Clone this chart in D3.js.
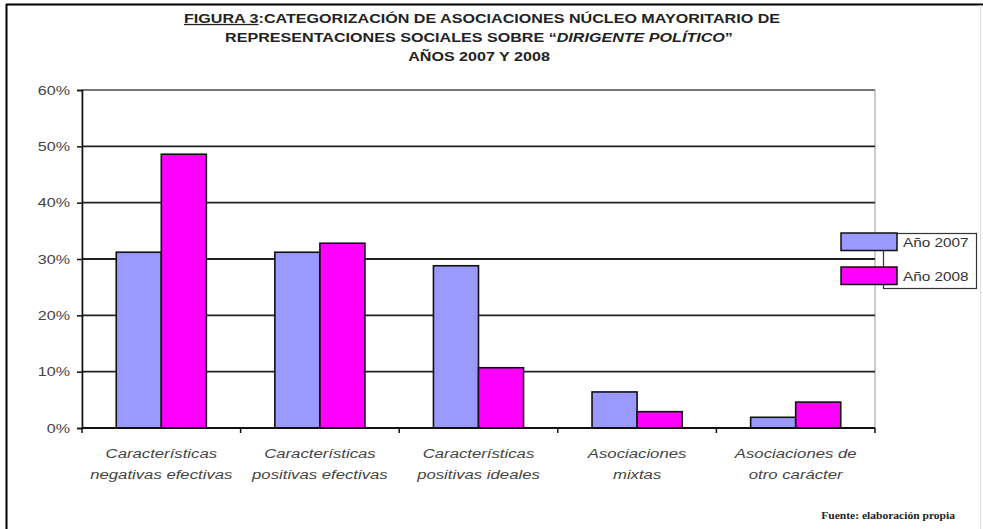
<!DOCTYPE html>
<html>
<head>
<meta charset="utf-8">
<script src="https://cdn.jsdelivr.net/npm/d3@7"></script>
<style>
  html, body { margin: 0; padding: 0; background: #fff; }
  svg { display: block; }
</style>
</head>
<body>
<svg id="chart" width="983" height="529"></svg>
<script>
// Categories (two-line labels) and the share of associations per year
const categories = [
  ["Características", "negativas efectivas"],
  ["Características", "positivas efectivas"],
  ["Características", "positivas ideales"],
  ["Asociaciones", "mixtas"],
  ["Asociaciones de", "otro carácter"]
];
const seriesNames = ["Año 2007", "Año 2008"];
const values2007 = [0.312, 0.312, 0.288, 0.064, 0.019];
const values2008 = [0.486, 0.328, 0.107, 0.029, 0.046];
const yTicks = [0, 0.1, 0.2, 0.3, 0.4, 0.5, 0.6];
const seriesColors = ["#9999FF", "#FF00FF"];

const svg = d3.select("#chart");
const font = "'Liberation Sans', Arial, sans-serif";
const sx = 1.24; // horizontal stretch of all lettering

// Outer frame
svg.append("line").attr("x1", 6).attr("x2", 983).attr("y1", 4.5).attr("y2", 4.5)
  .attr("stroke", "#000").attr("stroke-width", 2);
svg.append("line").attr("x1", 6.5).attr("x2", 6.5).attr("y1", 4).attr("y2", 529)
  .attr("stroke", "#000").attr("stroke-width", 2);
svg.append("line").attr("x1", 980.5).attr("x2", 980.5).attr("y1", 5).attr("y2", 529)
  .attr("stroke", "#ddd").attr("stroke-width", 1);

// Title
const title = svg.append("g").attr("font-family", font).attr("font-weight", "bold")
  .attr("font-size", 13).attr("fill", "#222").attr("text-anchor", "middle");
const t1 = title.append("text").attr("transform", `translate(482,23) scale(${sx},1)`);
t1.append("tspan").attr("text-decoration", "underline").text("FIGURA 3");
t1.append("tspan").text(":CATEGORIZACIÓN DE ASOCIACIONES NÚCLEO MAYORITARIO DE");
const t2 = title.append("text").attr("transform", `translate(479,42) scale(${sx},1)`);
t2.append("tspan").text("REPRESENTACIONES SOCIALES SOBRE “");
t2.append("tspan").attr("font-style", "italic").text("DIRIGENTE POLÍTICO");
t2.append("tspan").text("”");
title.append("text").attr("transform", `translate(479,61) scale(${sx},1)`).text("AÑOS 2007 Y 2008");

// Scales
const plotLeft = 82, plotRight = 875, plotTop = 90, plotBottom = 428;
const x0 = d3.scaleBand().domain(d3.range(categories.length)).range([plotLeft, plotRight]);
const x1 = d3.scaleBand().domain(seriesNames).range([0, x0.bandwidth()]).paddingOuter(0.76);
const y = d3.scaleLinear().domain([0, 0.6]).range([plotBottom, plotTop]);

// Plot-area border
svg.append("rect").attr("x", plotLeft).attr("y", plotTop)
  .attr("width", plotRight - plotLeft).attr("height", plotBottom - plotTop)
  .attr("fill", "none").attr("stroke", "#999").attr("stroke-width", 1);

// Gridlines
svg.append("g").selectAll("line").data(yTicks.filter(t => t > 0 && t < 0.6)).join("line")
  .attr("x1", plotLeft).attr("x2", plotRight)
  .attr("y1", d => y(d)).attr("y2", d => y(d))
  .attr("stroke", "#222").attr("stroke-width", 1.8);
svg.append("line").attr("x1", plotLeft).attr("x2", plotRight)
  .attr("y1", y(0.6)).attr("y2", y(0.6))
  .attr("stroke", "#777").attr("stroke-width", 1.8);

// Bars
const groups = svg.append("g").selectAll("g").data(categories.map((c, i) => i)).join("g")
  .attr("transform", i => `translate(${x0(i)},0)`);
groups.selectAll("rect")
  .data(i => [values2007[i], values2008[i]].map((v, k) => ({ v, k })))
  .join("rect")
  .attr("x", d => x1(seriesNames[d.k]))
  .attr("width", x1.bandwidth())
  .attr("y", d => y(d.v))
  .attr("height", d => y(0) - y(d.v))
  .attr("fill", d => seriesColors[d.k])
  .attr("stroke", "#111").attr("stroke-width", 1.6);

// Y axis
const yAxis = d3.axisLeft(y).tickValues(yTicks).tickFormat(d3.format(".0%")).tickSize(5);
const yg = svg.append("g").attr("transform", `translate(${plotLeft},0)`).call(yAxis);
yg.select(".domain").attr("stroke", "#111").attr("stroke-width", 1.6);
yg.selectAll(".tick line").attr("stroke", "#111").attr("stroke-width", 1.5);
yg.selectAll(".tick text").attr("font-family", font).attr("font-size", 13).attr("fill", "#444")
  .attr("x", -12 / sx).attr("transform", `scale(${sx},1)`);

// X axis: baseline with ticks at category boundaries
const xb = svg.append("g");
xb.append("line").attr("x1", plotLeft).attr("x2", plotRight)
  .attr("y1", plotBottom).attr("y2", plotBottom)
  .attr("stroke", "#111").attr("stroke-width", 1.8);
const boundaries = d3.range(categories.length + 1).map(i =>
  i < categories.length ? x0(i) : x0(categories.length - 1) + x0.bandwidth());
xb.selectAll("line.tk").data(boundaries).join("line").attr("class", "tk")
  .attr("x1", d => d).attr("x2", d => d)
  .attr("y1", plotBottom).attr("y2", plotBottom + 5)
  .attr("stroke", "#111").attr("stroke-width", 1.5);

// Category labels
const labels = svg.append("g").attr("font-family", font).attr("font-style", "italic")
  .attr("font-size", 13.5).attr("fill", "#444").attr("text-anchor", "middle");
labels.selectAll("text").data(categories).join("text")
  .attr("transform", (d, i) => `translate(${x0(i) + x0.bandwidth() / 2},0) scale(${sx},1)`)
  .each(function (d) {
    const t = d3.select(this);
    t.append("tspan").attr("x", 0).attr("y", 458).text(d[0]);
    t.append("tspan").attr("x", 0).attr("y", 479).text(d[1]);
  });

// Legend
const legend = svg.append("g");
legend.append("rect").attr("x", 883.5).attr("y", 233.5).attr("width", 93).attr("height", 55)
  .attr("fill", "#fff").attr("stroke", "#333").attr("stroke-width", 1.2);
const swatchY = [233, 267];
legend.selectAll("rect.sw").data(seriesNames).join("rect").attr("class", "sw")
  .attr("x", 841).attr("y", (d, i) => swatchY[i]).attr("width", 56).attr("height", 17.5)
  .attr("fill", (d, i) => seriesColors[i]).attr("stroke", "#111").attr("stroke-width", 1.5);
legend.selectAll("text").data(seriesNames).join("text")
  .attr("transform", (d, i) => `translate(903,${swatchY[i] + 14}) scale(${sx - 0.06},1)`)
  .attr("font-family", font).attr("font-size", 13).attr("fill", "#333")
  .text(d => d);

// Source note
svg.append("text").attr("transform", "translate(955,519) scale(1.05,1)").attr("text-anchor", "end")
  .attr("font-family", "'Liberation Serif', 'Times New Roman', serif")
  .attr("font-weight", "bold").attr("font-size", 11).attr("fill", "#222")
  .text("Fuente: elaboración propia");
</script>
</body>
</html>
